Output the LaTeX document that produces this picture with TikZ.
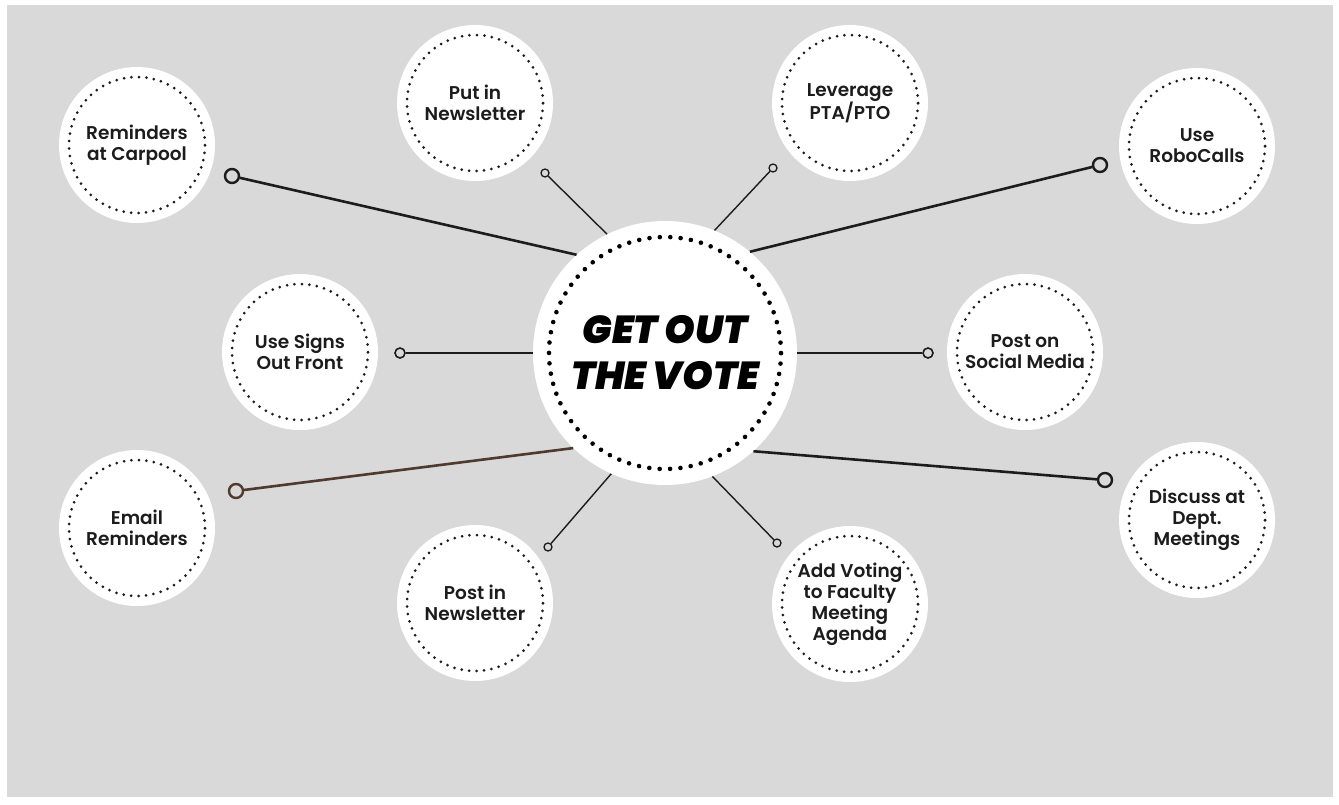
\documentclass[tikz,border=0pt]{standalone}
\usepackage{fontspec}
\setmainfont{Poppins}[UprightFont=* SemiBold, BoldFont=* Bold]
\newfontfamily\votefont{Poppins}[UprightFont=* Black Italic]
\definecolor{board}{HTML}{D9D9D9}
\definecolor{ink}{HTML}{1C1C1C}
\definecolor{rust}{HTML}{4E3A2E}

\begin{document}
\begin{tikzpicture}[x=1pt, y=-1pt,
    idea/.style={circle, fill=white, minimum size=156pt, inner sep=0pt, align=center, text=ink,
      font=\fontsize{18.5}{21}\selectfont,
      path picture={\draw [ink, line width=3pt, line cap=round, dash pattern=on 0pt off 7.49pt]
        (path picture bounding box.center) circle (68pt);}},
    hubnode/.style={circle, fill=white, minimum size=264pt, inner sep=0pt, align=center, text=black,
      font=\votefont\fontsize{39}{46}\selectfont,
      path picture={\draw [black, line width=4.6pt, line cap=round, dash pattern=on 0pt off 10.41pt]
        (path picture bounding box.center) circle (116pt);}},
    bigtip/.style={circle, draw=ink, fill=board, line width=2.4pt, minimum size=14pt, inner sep=0pt},
    midtip/.style={circle, draw=ink, fill=board, line width=1.6pt, minimum size=10pt, inner sep=0pt},
    smalltip/.style={circle, draw=ink, fill=board, line width=1.3pt, minimum size=8pt, inner sep=0pt},
    heavy/.style={ink, line width=2.6pt},
    light/.style={ink, line width=1.4pt}]
    \fill [white] (0,0) rectangle (1339,804);
    \fill [board] (7,5) rectangle (1333,797);

    \node (hub) at (665,353) [hubnode] {GET OUT\\THE VOTE};

    \node (carpool) at (137,145) [idea] {Reminders\\at Carpool};
    \node (newsA) at (475,103) [idea] {Put in\\Newsletter};
    \node (pta) at (850,103) [idea] {Leverage\\PTA/PTO};
    \node (robo) at (1197,146) [idea] {Use\\RoboCalls};
    \node (signs) at (300,352) [idea] {Use Signs\\Out Front};
    \node (social) at (1025,352) [idea] {Post on\\Social Media};
    \node (email) at (137,528) [idea] {Email\\Reminders};
    \node (newsB) at (475,603) [idea] {Post in\\Newsletter};
    \node (agenda) at (850,604) [idea] {Add Voting\\to Faculty\\Meeting\\Agenda};
    \node (dept) at (1197,520) [idea] {Discuss at\\Dept.\\Meetings};

    \node (tipcarpool) at (232,176) [bigtip] {};
    \node (tipnewsA) at (545,173) [smalltip] {};
    \node (tippta) at (773,168) [smalltip] {};
    \node (tiprobo) at (1100,165) [bigtip] {};
    \node (tipsigns) at (400,353) [midtip] {};
    \node (tipsocial) at (928,353) [midtip] {};
    \node (tipemail) at (236,491) [bigtip, draw=rust] {};
    \node (tipnewsB) at (548,547) [smalltip] {};
    \node (tipagenda) at (777,543) [smalltip] {};
    \node (tipdept) at (1105,480) [bigtip] {};

    \draw [heavy] (hub.132) -- (tipcarpool);
    \draw [light] (hub.116) -- (tipnewsA);
    \draw [light] (hub.68) -- (tippta);
    \draw [heavy] (hub.50) -- (tiprobo);
    \draw [light, line width=1.8pt] (hub.180) -- (tipsigns);
    \draw [light, line width=1.8pt] (hub.0) -- (tipsocial);
    \draw [heavy, rust] (hub.226) -- (tipemail);
    \draw [light] (hub.246) -- (tipnewsB);
    \draw [light] (hub.291) -- (tipagenda);
    \draw [heavy] (hub.312) -- (tipdept);
\end{tikzpicture}
\end{document}
